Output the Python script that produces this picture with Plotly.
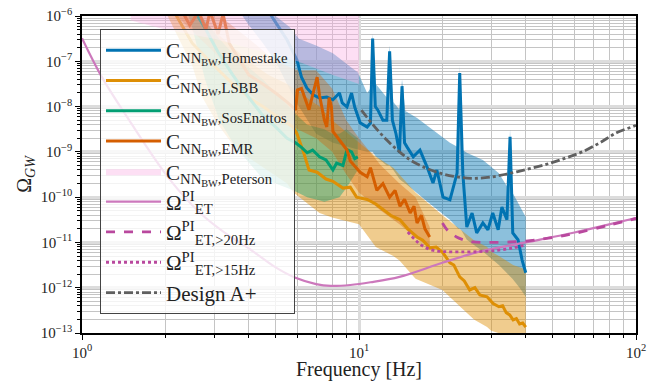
import numpy as np
import plotly.graph_objects as go

# ---------------- data (log10 of Omega_GW) ----------------
home_f = [4.6, 4.86, 5.2, 5.5, 5.97, 6.2, 6.48, 6.83, 7.2, 7.65, 8.05, 8.5, 8.7, 9.05, 9.4, 9.65,
          10.1, 10.7, 11.0, 11.2, 11.45, 11.7, 12.2, 12.6, 12.9, 13.2, 13.6, 14.0, 14.3, 14.6, 14.9,
          15.7, 16.6, 17.6, 18.5, 19.1, 20.1, 21.3, 22.6, 23.1, 23.7, 24.5, 25.6, 26.6, 28.0, 29.2,
          30.4, 31.8, 32.8, 34.2, 35.1, 35.9, 37.5, 38.8, 40.0]
home_v = [-5.8, -6.02, -6.3, -6.53, -6.97, -7.35, -7.59, -7.74, -7.81, -7.79, -7.85, -7.70, -7.92, -8.01, -7.70, -8.01,
          -8.36, -8.45, -8.36, -6.5, -8.0, -8.08, -8.3, -8.30, -6.78, -8.30, -8.6, -9.02, -7.55, -8.8, -8.89,
          -9.11, -8.96, -9.33, -9.69, -9.40, -10.0, -10.06, -9.47, -7.26, -9.47, -10.66, -10.35, -10.79, -10.57, -10.72,
          -10.35, -10.72, -10.22, -10.50, -8.67, -10.79, -10.94, -11.39, -11.67]
home_band_f = [3.7, 4.0, 4.5, 5.0, 5.6, 6.07, 7.0, 8.05, 9.3, 9.9, 10.7, 11.0, 11.2, 11.5, 12.6, 12.9, 13.3,
               14.0, 14.3, 14.7, 16.2, 18.5, 21.3, 22.8, 23.1, 23.5, 24.5, 28.0, 32.0, 34.5, 35.1, 35.8, 38.0, 40.0]
home_hi = [-5.5, -5.6, -5.8, -6.0, -6.24, -6.5, -6.65, -6.82, -7.12, -7.24, -7.70, -7.6, -6.4, -7.5, -7.8, -6.65, -7.9,
           -8.07, -7.4, -8.1, -8.25, -8.52, -8.80, -8.9, -7.1, -8.95, -9.02, -9.18, -9.47, -9.8, -8.5, -9.9, -10.2, -10.44]
home_lo = [-5.9, -6.2, -6.6, -7.0, -7.6, -8.0, -8.6, -8.8, -8.9, -8.95, -9.0, -9.0, -9.0, -9.1, -9.3, -9.3, -9.4,
           -9.6, -9.65, -9.7, -9.9, -10.2, -10.5, -10.7, -10.7, -10.75, -10.94, -11.2, -11.5, -11.7, -11.75, -11.8, -12.0, -12.2]

lsbb_f = [2.1, 2.5, 3.0, 3.5, 4.0, 4.5, 5.0, 5.78, 5.97, 6.3, 6.6, 7.06, 7.6, 8.05, 8.75, 9.3, 9.8, 10.7, 11.5,
          12.2, 13.0, 14.06, 15.0, 16.2, 17.0, 18.0, 19.0, 20.1, 21.3, 22.0, 23.1, 24.0, 25.1, 26.2, 27.3, 29.0,
          30.5, 32.0, 33.0, 34.0, 35.0, 36.0, 37.0, 38.0, 39.0, 40.0]
lsbb_v = [-5.8, -6.6, -7.1, -7.5, -7.8, -8.0, -8.2, -8.45, -8.6, -9.0, -9.4, -9.45, -9.6, -9.65, -9.8, -9.78, -10.0,
          -10.05, -10.15, -10.28, -10.4, -10.5, -10.7, -10.88, -10.95, -11.12, -11.1, -11.23, -11.45, -11.5, -11.76,
          -11.85, -12.05, -12.0, -12.16, -12.2, -12.35, -12.42, -12.4, -12.55, -12.6, -12.71, -12.68, -12.8, -12.78, -12.87]
lsbb_band_f = [1.9, 2.0, 2.5, 2.72, 3.1, 3.5, 4.0, 4.7, 5.5, 5.8, 7.2, 8.0, 10.0, 11.5, 13.3, 14.0, 16.0, 20.0,
               23.0, 26.0, 29.0, 30.0, 32.0, 36.0, 40.0]
lsbb_hi = [-5.3, -5.4, -5.9, -6.1, -6.4, -6.7, -7.0, -7.3, -7.5, -7.6, -8.0, -8.3, -8.8, -9.1, -9.35, -9.5, -9.9,
           -10.4, -10.7, -10.95, -11.1, -11.2, -11.3, -11.5, -11.6]
lsbb_lo = [-5.5, -5.9, -7.1, -7.8, -8.4, -8.84, -9.13, -9.42, -9.7, -9.9, -10.35, -10.45, -10.6, -11.1, -11.3, -11.4,
           -11.8, -12.05, -12.4, -12.7, -12.87, -12.95, -13.0, -13.1, -13.1]

sos_f = [2.5, 2.8, 3.1, 3.5, 4.0, 4.5, 5.0, 5.5, 5.9, 6.2, 6.5, 6.8, 7.2, 7.6, 8.05, 8.3, 8.75, 9.05, 9.4, 9.65, 9.9]
sos_v = [-5.8, -6.3, -6.8, -7.3, -7.8, -8.2, -8.45, -8.7, -8.8, -8.9, -9.02, -8.96, -9.11, -9.18, -9.40, -9.25,
         -9.3, -8.95, -9.0, -9.15, -9.11]
sos_band_f = [2.0, 2.4, 2.5, 2.78, 3.13, 3.59, 4.5, 5.0, 5.78, 6.0, 6.5, 7.0, 7.5, 8.0, 8.5, 9.0, 9.9]
sos_hi = [-5.5, -5.7, -5.8, -6.1, -6.5, -6.9, -7.4, -7.7, -8.1, -8.2, -8.4, -8.45, -8.5, -8.6, -8.6, -8.5, -8.7]
sos_lo = [-5.6, -5.9, -6.25, -7.4, -8.3, -8.9, -9.6, -9.7, -9.85, -9.9, -10.0, -10.05, -10.1, -10.05, -10.0, -9.8, -9.4]

emr_f = [2.3, 2.45, 2.64, 2.8, 2.9, 3.1, 3.23, 3.4, 4.0, 4.5, 5.0, 5.5, 5.9, 6.0, 6.2, 6.4, 6.6, 7.06, 7.2, 7.5,
         7.65, 7.8, 7.95, 8.05, 8.5, 9.05, 9.3, 10.1, 10.7, 11.0, 11.6, 12.2, 12.9, 13.5, 14.06, 14.6, 15.3, 15.8,
         16.2, 16.8, 17.3, 18.0]
emr_v = [-5.9, -6.2, -5.9, -6.3, -5.9, -6.4, -5.95, -6.6, -7.3, -7.5, -7.7, -7.9, -8.07, -7.63, -7.6, -7.85, -8.07,
         -7.35, -7.75, -8.3, -8.45, -7.8, -8.0, -8.55, -8.74, -8.96, -9.2, -9.45, -9.55, -9.35, -9.85, -9.7, -10.0,
         -9.85, -10.2, -10.05, -10.35, -10.2, -10.57, -10.4, -10.7, -10.88]
emr_band_f = [2.0, 2.2, 3.0, 4.0, 5.0, 6.0, 7.0, 8.0, 9.0, 10.0, 12.0, 14.0, 16.0, 18.0]
emr_hi = [-5.5, -5.6, -5.9, -6.5, -7.0, -7.2, -7.2, -7.6, -8.3, -8.7, -9.3, -9.7, -10.0, -10.66]
emr_lo = [-5.7, -6.0, -6.8, -7.7, -8.2, -8.5, -8.7, -9.0, -9.5, -9.9, -10.3, -10.6, -10.9, -11.1]

pet_f = [1.5, 2.0, 3.0, 4.0, 6.0, 8.0, 10.0]
pet_hi = [-5.0, -5.0, -5.0, -5.0, -5.0, -5.0, -5.0]
pet_lo = [-6.1, -6.3, -6.5, -6.7, -7.0, -7.3, -7.5]

pi_f = [1.0, 1.18, 1.48, 2.08, 2.67, 3.3, 4.04, 5.0, 5.9, 7.0, 7.9, 9.3, 11.0, 14.0, 20.0, 27.0, 40.0, 60.0, 80.0, 100.0]
pi_v = [-6.49, -7.35, -8.30, -9.62, -10.35, -10.8, -11.15, -11.55, -11.78, -11.92, -11.96, -11.94, -11.88, -11.76,
        -11.45, -11.21, -11.0, -10.78, -10.6, -10.46]
pi20_f = [20.0, 21.0, 22.5, 24.0, 25.8, 30.0, 40.0, 49.0, 60.0, 80.0, 100.0]
pi20_v = [-10.57, -10.75, -10.88, -10.95, -10.99, -11.0, -10.97, -10.9, -10.8, -10.62, -10.47]
pi15_f = [15.0, 16.0, 17.0, 18.4, 20.0, 24.0, 28.0, 32.0, 36.0, 40.0]
pi15_v = [-10.77, -10.95, -11.08, -11.17, -11.2, -11.21, -11.2, -11.17, -11.12, -11.05]

des_f = [10.2, 11.3, 12.6, 14.0, 15.3, 17.3, 19.6, 22.0, 24.6, 27.5, 30.5, 33.5, 37.1, 42.5, 49.0, 56.0, 64.0,
         74.0, 85.0, 98.5, 100.0]
des_v = [-8.08, -8.42, -8.74, -9.0, -9.18, -9.35, -9.47, -9.54, -9.58, -9.58, -9.55, -9.5, -9.44, -9.35, -9.25,
         -9.13, -9.0, -8.8, -8.58, -8.43, -8.41]

x_tick_exp = [0, 1, 2]
y_tick_exp = [-13, -12, -11, -10, -9, -8, -7, -6]
minor_mult = [2, 3, 4, 5, 6, 7, 8, 9]

# ---------------- styling ----------------
C_BLUE = "#0173b2"
C_ORANGE = "#de8f05"
C_GREEN = "#029e73"
C_RED = "#d55e00"
C_PINKFILL = "rgba(251,175,228,0.4)"
C_PI = "#cc78bc"
C_PI2 = "#b9489e"
C_DES = "#606060"
FONT = "Liberation Serif"

def p(v):
    return [10.0 ** x for x in v]

def band(f, hi, lo, color, name=None, show=False):
    return go.Scatter(x=list(f) + list(f)[::-1], y=p(hi) + p(lo)[::-1], mode="lines",
                      fill="toself", fillcolor=color, line=dict(width=0), hoverinfo="skip",
                      name=name, showlegend=show)

fig = go.Figure()
fig.add_trace(band(home_band_f, home_hi, home_lo, "rgba(1,115,178,0.45)"))
fig.add_trace(band(lsbb_band_f, lsbb_hi, lsbb_lo, "rgba(222,143,5,0.45)"))
fig.add_trace(band(sos_band_f, sos_hi, sos_lo, "rgba(2,158,115,0.4)"))
fig.add_trace(band(emr_band_f, emr_hi, emr_lo, "rgba(213,94,0,0.35)"))

fig.add_trace(go.Scatter(x=home_f, y=p(home_v), mode="lines", line=dict(color=C_BLUE, width=3),
                         name="C<sub>NN<sub>BW</sub>,Homestake</sub>"))
fig.add_trace(go.Scatter(x=lsbb_f, y=p(lsbb_v), mode="lines", line=dict(color=C_ORANGE, width=3),
                         name="C<sub>NN<sub>BW</sub>,LSBB</sub>"))
fig.add_trace(go.Scatter(x=sos_f, y=p(sos_v), mode="lines", line=dict(color=C_GREEN, width=3),
                         name="C<sub>NN<sub>BW</sub>,SosEnattos</sub>"))
fig.add_trace(go.Scatter(x=emr_f, y=p(emr_v), mode="lines", line=dict(color=C_RED, width=3),
                         name="C<sub>NN<sub>BW</sub>,EMR</sub>"))
fig.add_trace(band(pet_f, pet_hi, pet_lo, C_PINKFILL, name="C<sub>NN<sub>BW</sub>,Peterson</sub>", show=True))

fig.add_trace(go.Scatter(x=pi_f, y=p(pi_v), mode="lines", line=dict(color=C_PI, width=2.2, shape="spline"),
                         name="Ω<sup>PI</sup><sub>ET</sub>"))
fig.add_trace(go.Scatter(x=pi20_f, y=p(pi20_v), mode="lines",
                         line=dict(color=C_PI2, width=2.8, dash="dash", shape="spline"),
                         name="Ω<sup>PI</sup><sub>ET,>20Hz</sub>"))
fig.add_trace(go.Scatter(x=pi15_f, y=p(pi15_v), mode="lines",
                         line=dict(color=C_PI2, width=2.8, dash="dot", shape="spline"),
                         name="Ω<sup>PI</sup><sub>ET,>15Hz</sub>"))
fig.add_trace(go.Scatter(x=des_f, y=p(des_v), mode="lines",
                         line=dict(color=C_DES, width=2.8, dash="dashdot", shape="spline"),
                         name="Design A+"))

x_minor = [m * 10.0 ** e for e in x_tick_exp[:-1] for m in minor_mult]
y_minor = [m * 10.0 ** e for e in y_tick_exp[:-1] for m in minor_mult]

axis_common = dict(type="log", showline=True, linecolor="black", linewidth=1.5, mirror=True,
                   ticks="outside", ticklen=5, tickcolor="black", tickwidth=1.2, automargin=False,
                   showgrid=True, gridcolor="#dcdcdc", gridwidth=2.5, zeroline=False,
                   tickfont=dict(family=FONT, size=15, color="#222"))
minor_common = dict(ticks="outside", ticklen=3, tickcolor="black", showgrid=True,
                    gridcolor="#c4c4c4", gridwidth=0.8, tickmode="array")

fig.update_layout(
    width=659, height=381,
    margin=dict(l=82, r=23, t=16, b=48),
    paper_bgcolor="white", plot_bgcolor="white",
    font=dict(family=FONT, size=16, color="#222"),
    xaxis=dict(axis_common, range=[0, 2],
               tickvals=[10.0 ** e for e in x_tick_exp],
               ticktext=["10<sup>%d</sup>" % e for e in x_tick_exp],
               minor=dict(minor_common, tickvals=x_minor),
               title=dict(text="Frequency [Hz]", font=dict(family=FONT, size=20), standoff=8)),
    yaxis=dict(axis_common, range=[-13, -6],
               tickvals=[10.0 ** e for e in y_tick_exp],
               ticktext=["10<sup>\u2212%d</sup>" % (-e) for e in y_tick_exp],
               minor=dict(minor_common, tickvals=y_minor),
               title=dict(text="Ω<sub><i>GW</i></sub>", font=dict(family=FONT, size=20), standoff=4)),
    legend=dict(x=0.0325, y=0.959, xanchor="left", yanchor="top",
                bgcolor="rgba(255,255,255,0.8)", bordercolor="#444", borderwidth=1,
                font=dict(family=FONT, size=21, color="#222"), tracegroupgap=0, itemwidth=55),
    showlegend=True,
)

fig.write_html("out.html", config={"displayModeBar": False},
               post_script="document.body.style.margin='0';")
